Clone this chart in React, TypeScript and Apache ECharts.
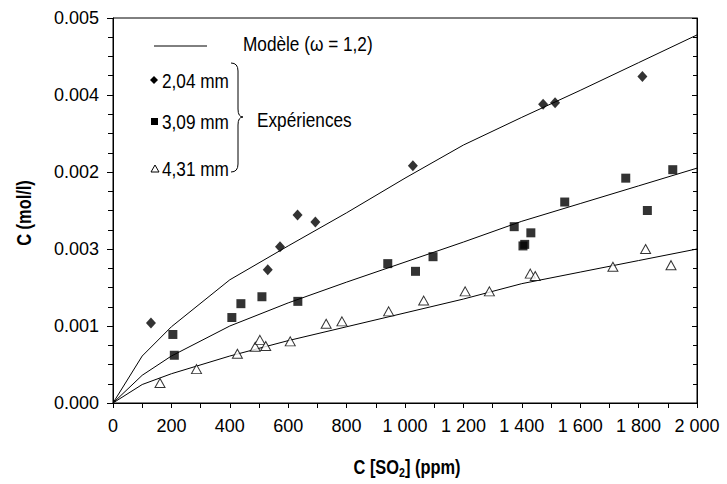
import React, { useEffect, useRef } from "react";
import * as echarts from "echarts";

const yTickLabels = ["0.000", "0.001", "0.003", "0.002", "0.004", "0.005"];

const modelX = [0, 100, 200, 400, 600, 800, 1000, 1200, 1400, 1600, 1800, 2000];
const model204 = [0, 0.00061, 0.00099, 0.0016, 0.00204, 0.00247, 0.00292, 0.00335, 0.00371, 0.00406, 0.00442, 0.00478];
const model309 = [0, 0.00036, 0.00061, 0.001, 0.0013, 0.00157, 0.00183, 0.00209, 0.00236, 0.00259, 0.00282, 0.00305];
const model431 = [0, 0.00024, 0.00038, 0.00061, 0.00081, 0.00099, 0.00117, 0.00135, 0.00155, 0.0017, 0.00185, 0.002];

const exp204: [number, number][] = [
  [130, 0.00104], [530, 0.00173], [572, 0.00203], [632, 0.00244], [693, 0.00235],
  [1027, 0.00308], [1473, 0.00388], [1514, 0.0039], [1813, 0.00424],
];
const exp309: [number, number][] = [
  [205, 0.00089], [210, 0.00062], [407, 0.00111], [438, 0.00129], [510, 0.00138],
  [633, 0.00132], [941, 0.00181], [1036, 0.00171], [1096, 0.0019], [1374, 0.00229],
  [1404, 0.00204], [1410, 0.00206], [1431, 0.00221], [1547, 0.00261], [1756, 0.00292],
  [1830, 0.0025], [1917, 0.00303],
];
const exp431: [number, number][] = [
  [161, 0.00026], [286, 0.00044], [426, 0.00064], [487, 0.00073], [503, 0.00082],
  [523, 0.00074], [607, 0.0008], [730, 0.00103], [784, 0.00106], [944, 0.00119],
  [1064, 0.00133], [1206, 0.00145], [1289, 0.00145], [1429, 0.00168], [1446, 0.00165],
  [1712, 0.00177], [1824, 0.002], [1911, 0.00179],
];

const FONT = "'Liberation Sans', Arial, sans-serif";
const NARROW = 0.82;

const braceD = "M0,0 Q7,0 7,8 L7,46 Q7,54 12,54 Q7,54 7,62 L7,101 Q7,109 0,109";
echarts.graphic.registerShape("brace", echarts.graphic.extendPath(braceD, {}) as any);

function pairs(xs: number[], ys: number[]) {
  return xs.map((x, i) => [x, ys[i]]);
}

function label(text: string, x: number, y: number) {
  return {
    type: "text",
    x,
    y,
    scaleX: NARROW,
    style: { text, font: `21px ${FONT}`, fill: "#000", verticalAlign: "middle" },
  };
}

export default function App() {
  const ref = useRef<HTMLDivElement>(null);
  useEffect(() => {
    if (!ref.current) return;
    const chart = echarts.init(ref.current, undefined, { renderer: "svg" });
    const lineStyle = { color: "#000", width: 1 };
    const modelSeries = [model204, model309, model431].map((m) => ({
      type: "line",
      data: pairs(modelX, m),
      showSymbol: false,
      symbol: "none",
      lineStyle,
      silent: true,
      z: 2,
    }));
    chart.setOption({
      animation: false,
      backgroundColor: "#fff",
      grid: { left: 113, right: 30, top: 18, bottom: 81, show: true, borderColor: "#000", borderWidth: 1 },
      xAxis: {
        type: "value",
        min: 0,
        max: 2000,
        interval: 200,
        axisLine: { show: true, lineStyle: { color: "#000", width: 1 } },
        axisTick: { show: true, length: 5, lineStyle: { color: "#000" } },
        minorTick: { show: true, splitNumber: 2, length: 5, lineStyle: { color: "#000" } },
        splitLine: { show: false },
        axisLabel: {
          color: "#000",
          fontFamily: FONT,
          fontSize: 18,
          margin: 14,
          formatter: (v: number) => (v >= 1000 ? Math.floor(v / 1000) + " " + String(v % 1000).padStart(3, "0") : String(v)),
        },
      },
      yAxis: [
        {
          type: "value",
          min: 0,
          max: 0.005,
          interval: 0.001,
          axisLine: { show: true, lineStyle: { color: "#000", width: 1 } },
          axisTick: { show: true, length: 6, lineStyle: { color: "#000" } },
          minorTick: { show: true, splitNumber: 4, length: 5, lineStyle: { color: "#000" } },
          splitLine: { show: false },
          axisLabel: {
            color: "#000",
            fontFamily: FONT,
            fontSize: 18,
            margin: 14,
            formatter: (v: number) => yTickLabels[Math.round(v / 0.001)] ?? "",
          },
        },
        {
          type: "value",
          position: "right",
          min: 0,
          max: 0.005,
          interval: 0.001,
          axisLine: { show: true, lineStyle: { color: "#000", width: 1 } },
          axisTick: { show: true, inside: true, length: 5, lineStyle: { color: "#000" } },
          minorTick: { show: true, splitNumber: 4, length: 4, lineStyle: { color: "#000" } },
          splitLine: { show: false },
          axisLabel: { show: false },
        },
      ],
      series: [
        ...modelSeries,
        {
          type: "scatter",
          data: exp204,
          symbol: "diamond",
          symbolSize: [10, 11],
          itemStyle: { color: "#000" },
          z: 3,
        },
        {
          type: "scatter",
          data: exp309,
          symbol: "rect",
          symbolSize: 9,
          itemStyle: { color: "#000" },
          z: 3,
        },
        {
          type: "scatter",
          data: exp431,
          symbol: "triangle",
          symbolSize: [10, 9],
          itemStyle: { color: "#fff", borderColor: "#000", borderWidth: 1 },
          z: 3,
        },
      ],
      graphic: [
        { type: "line", shape: { x1: 154, y1: 46, x2: 207, y2: 46 }, style: { stroke: "#000", lineWidth: 1 } },
        label("Modèle (ω = 1,2)", 243, 44),
        { type: "polygon", shape: { points: [[154, 76], [158, 80], [154, 84], [150, 80]] }, style: { fill: "#000" } },
        label("2,04 mm", 162, 81),
        { type: "rect", shape: { x: 151, y: 118, width: 7, height: 7 }, style: { fill: "#000" } },
        label("3,09 mm", 162, 122),
        { type: "polygon", shape: { points: [[155, 165], [159, 172], [151, 172]] }, style: { fill: "#fff", stroke: "#000", lineWidth: 1 } },
        label("4,31 mm", 162, 169),
        { type: "brace", x: 231, y: 63, style: { fill: "none", stroke: "#000", lineWidth: 1 } },
        label("Expériences", 257, 120),
        {
          type: "text",
          x: 24,
          y: 213,
          rotation: Math.PI / 2,
          scaleX: NARROW,
          style: { text: "C (mol/l)", font: `bold 20px ${FONT}`, fill: "#000", align: "center", verticalAlign: "middle" },
        },
        {
          type: "text",
          x: 407,
          y: 467,
          scaleX: NARROW,
          style: {
            text: "{a|C [SO}{b|2}{a|] (ppm)}",
            align: "center",
            verticalAlign: "middle",
            rich: {
              a: { font: `bold 20px ${FONT}`, fill: "#000", lineHeight: 24, verticalAlign: "middle" },
              b: { font: `bold 13px ${FONT}`, fill: "#000", lineHeight: 13, verticalAlign: "bottom" },
            },
          },
        },
      ],
    });
    return () => chart.dispose();
  }, []);
  return <div ref={ref} style={{ width: 727, height: 484, position: "absolute", left: 0, top: 0 }} />;
}
